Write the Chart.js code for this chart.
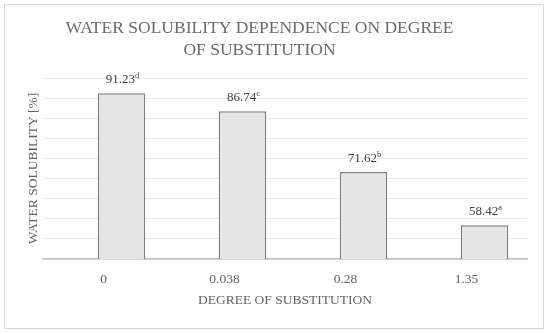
<!DOCTYPE html>
<html>
<head>
<meta charset="utf-8">
<script src="https://cdn.jsdelivr.net/npm/chart.js@4.4.0/dist/chart.umd.min.js"></script>
<style>
  body { margin: 0; background: #fff; }
  #wrap { position: relative; width: 550px; height: 334px; }
  #frame { position: absolute; left: 4px; top: 4px; width: 538px; height: 323px; border: 1px solid #d9d9d9; }
  #myChart { position: absolute; left: 0; top: 0; }
</style>
</head>
<body>
<div id="wrap">
  <div id="frame"></div>
  <canvas id="myChart" width="550" height="334"></canvas>
</div>
<script>
const ctx = document.getElementById('myChart');

// data
const categories = ['0', '0.038', '0.28', '1.35'];
const solubility = [91.23, 86.74, 71.62, 58.42];
const letters = ['d', 'c', 'b', 'a'];

const serif = "'Liberation Serif', 'Times New Roman', serif";
const textGray = '#626262';

// value labels with a small raised letter
const valueLabels = {
    id: 'valueLabels',
    afterLayout(chart) {
        // title sits a little left of the canvas centre in the original
        chart.titleBlock.right -= 8;
    },
    afterDatasetsDraw(chart) {
        const c = chart.ctx;
        const meta = chart.getDatasetMeta(1);
        c.save();
        c.fillStyle = '#404040';
        c.textBaseline = 'alphabetic';
        meta.data.forEach(function(bar, i) {
            let main = solubility[i].toFixed(2);
            c.font = '13px ' + serif;
            let w1 = c.measureText(main).width;
            c.font = '8.5px ' + serif;
            let w2 = c.measureText(letters[i]).width;
            let x0 = bar.x - (w1 + w2) / 2 + 1;
            let y0 = bar.y - 10;
            c.font = '13px ' + serif;
            c.textAlign = 'left';
            c.fillText(main, x0, y0);
            c.font = '8.5px ' + serif;
            c.fillText(letters[i], x0 + w1, y0 - 5);
        });
        c.restore();
    }
};

const myChart = new Chart(ctx, {
    type: 'bar',
    data: {
        labels: categories,
        datasets: [
            {
                // empty series, keeps the visible bars off-centre like the original
                label: '',
                data: categories.map(() => null),
                backgroundColor: 'rgba(0,0,0,0)'
            },
            {
                label: 'Water solubility',
                data: solubility,
                backgroundColor: '#e5e5e5',
                borderColor: '#7f7f7f',
                borderWidth: 1.5,
                borderSkipped: false
            }
        ]
    },
    options: {
        responsive: false,
        animation: false,
        categoryPercentage: 0.595,
        barPercentage: 1.32,
        layout: { padding: { left: 0, right: 23, top: 0, bottom: 0 } },
        plugins: {
            legend: { display: false },
            tooltip: { enabled: false },
            title: {
                display: true,
                text: ['WATER SOLUBILITY DEPENDENCE ON DEGREE', 'OF SUBSTITUTION'],
                color: '#6a6a6a',
                font: { family: serif, size: 17.5, weight: 'normal', lineHeight: '22px' },
                padding: { top: 17.5, bottom: 16.5 }
            }
        },
        scales: {
            x: {
                grid: { display: false, drawTicks: false },
                border: { display: true, color: '#bfbfbf', width: 1.5 },
                ticks: {
                    color: textGray,
                    font: { family: serif, size: 13.5 },
                    padding: 12,
                    maxRotation: 0
                },
                title: {
                    display: true,
                    text: 'DEGREE OF SUBSTITUTION',
                    color: textGray,
                    font: { family: serif, size: 13.5 },
                    padding: { top: 0, bottom: 25.4 }
                },
                afterFit: s => { s.height = 75; }
            },
            y: {
                min: 50,
                max: 95,
                ticks: { stepSize: 5, display: false },
                grid: { color: '#e9e9e9', lineWidth: 1, drawTicks: false },
                border: { display: false },
                title: {
                    display: true,
                    text: 'WATER SOLUBILITY [%]',
                    color: textGray,
                    font: { family: serif, size: 13.5 },
                    padding: { top: 25.4, bottom: 0 }
                },
                afterFit: s => { s.width = 43; }
            }
        }
    },
    plugins: [valueLabels]
});
</script>
</body>
</html>
